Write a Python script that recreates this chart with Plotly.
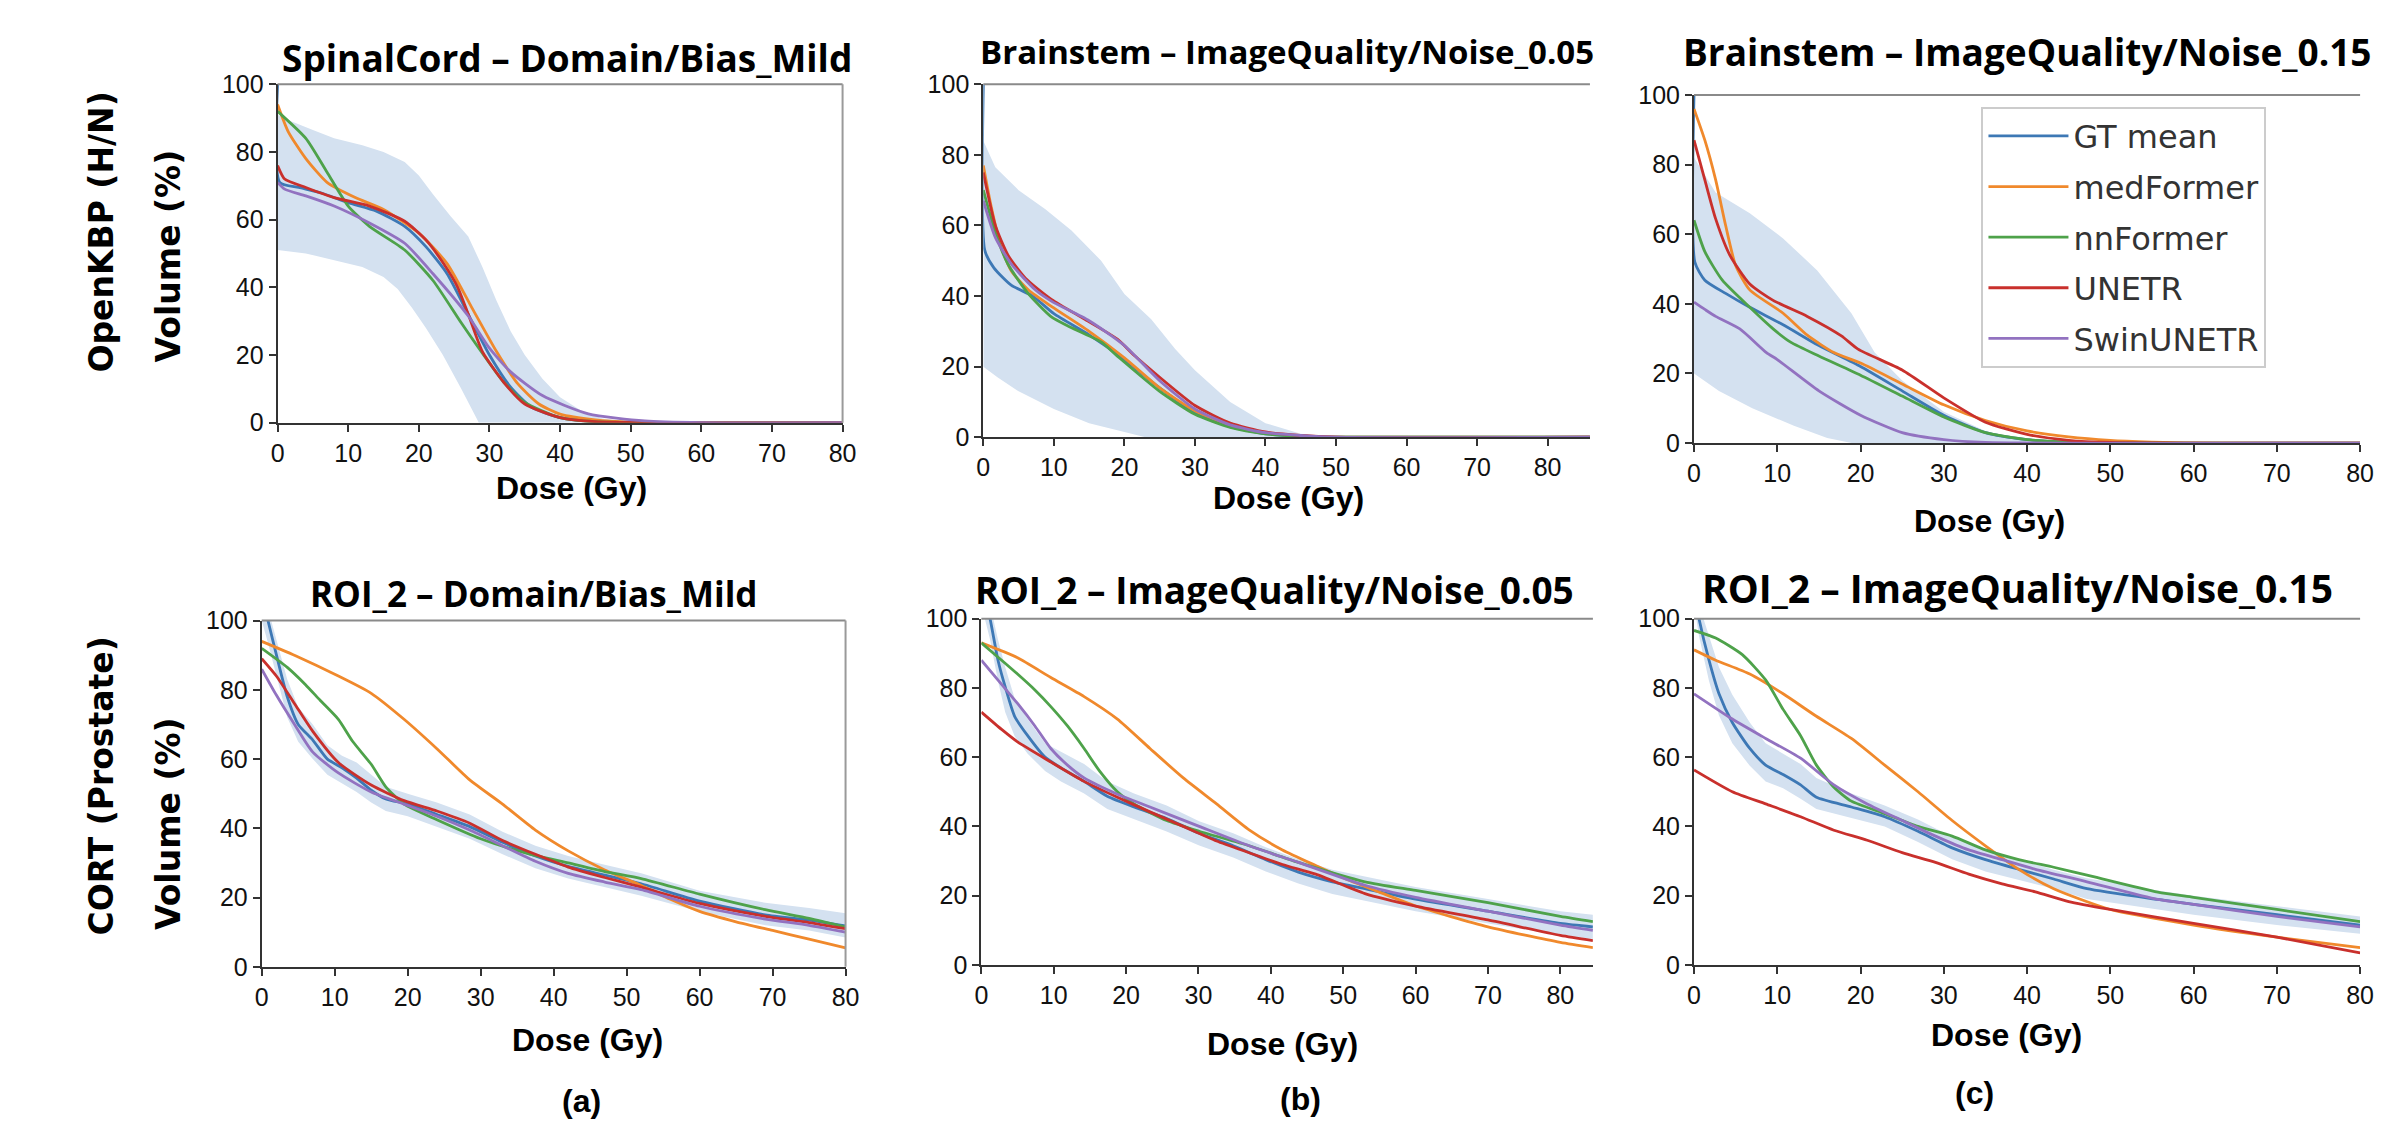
import plotly.graph_objects as go

W, H = 2385, 1132

# ---------------- data: dose (Gy) / volume (%) ----------------
MODELS = ["GT mean", "medFormer", "nnFormer", "UNETR", "SwinUNETR"]
COLORS = ["#3d78b5", "#f0892c", "#4ea24a", "#c9302c", "#9272c0"]
X_TICKS = [0, 10, 20, 30, 40, 50, 60, 70, 80]
Y_TICKS = [0, 20, 40, 60, 80, 100]

TITLES = ["SpinalCord – Domain/Bias_Mild", "Brainstem – ImageQuality/Noise_0.05",
          "Brainstem – ImageQuality/Noise_0.15", "ROI_2 – Domain/Bias_Mild",
          "ROI_2 – ImageQuality/Noise_0.05", "ROI_2 – ImageQuality/Noise_0.15"]
ROW_LABELS = ["OpenKBP (H/N)", "CORT (Prostate)"]
COL_LABELS = ["(a)", "(b)", "(c)"]

# --- (a) top: SpinalCord
a1_band_up_x = [0, 2, 5, 8, 12, 15, 18, 20, 22, 24.5, 27, 29, 31, 33, 35, 37.5, 40, 43, 46, 50, 80]
a1_band_up = [91, 89, 86.5, 84, 82, 80, 77, 73, 67.5, 61, 55, 46, 36, 27, 20, 13, 7.5, 3.5, 1.2, 0.2, 0]
a1_band_lo_x = [0, 4, 8, 12, 15, 17, 19, 21, 23.4, 26, 28.5, 80]
a1_band_lo = [51, 50, 48, 46, 43, 39.5, 34, 28, 20, 10, 0, 0]
a1_gt_x = [0, 0.3, 3, 6, 10, 14, 18, 21, 24, 27, 30, 33, 36, 40, 45, 50, 80]
a1_gt = [100, 71, 69.5, 68, 65, 62.5, 58, 52, 44, 32, 20, 10.5, 4.5, 1.5, 0.3, 0, 0]
a1_med_x = [0, 1.5, 4, 7, 11, 15, 20, 24, 27.5, 31, 34, 37, 40, 45, 50, 80]
a1_med = [94, 86, 78, 71, 66.5, 63, 56, 47, 34, 21, 11.5, 5.5, 2.5, 0.8, 0.2, 0]
a1_nn_x = [0, 4, 7, 10, 13, 18, 22, 26, 29, 32, 35, 40, 45, 80]
a1_nn = [92, 84, 74, 64, 58, 51, 42, 29.5, 20.5, 12, 6, 1.5, 0.3, 0]
a1_unetr_x = [0, 1, 4, 8, 13, 18, 21, 23.5, 25.5, 27, 29, 32, 35, 40, 45, 80]
a1_unetr = [76, 72, 69.5, 66.5, 64, 59.5, 54, 47, 40, 32, 21, 12, 5.5, 1.5, 0.3, 0]
a1_swin_x = [0, 1, 4, 8, 13, 18, 22, 27, 30, 33, 37.5, 44, 52, 60, 80]
a1_swin = [71, 69, 67, 64, 59, 53, 44, 31.5, 22, 15, 8, 2.6, 0.5, 0, 0]

# --- (b) top: Brainstem noise 0.05
b1_band_up_x = [0, 1.7, 5, 8.8, 12.5, 16.7, 20, 23.8, 27.2, 30, 35, 40, 45, 50, 86]
b1_band_up = [84, 76.5, 70, 64.6, 58.6, 50, 40.6, 33.4, 25, 19, 10, 4, 1, 0, 0]
b1_band_lo_x = [0, 2, 5, 10, 15, 20, 23, 86]
b1_band_lo = [20, 17, 13, 8, 4, 1.5, 0, 0]
b1_gt_x = [0, 0.2, 1.5, 4, 7, 10, 15, 20, 25, 30, 35, 40, 45, 50, 86]
b1_gt = [100, 53, 48, 43, 40, 35, 29, 22, 14, 7, 3, 1, 0.3, 0, 0]
b1_med_x = [0, 1.1, 2.5, 4, 6.4, 9.7, 15, 20, 25, 30, 35, 40, 45, 50, 86]
b1_med = [77, 65.5, 54, 47, 41.7, 37, 30, 22.5, 14, 7.5, 3.5, 1.2, 0.4, 0, 0]
b1_nn_x = [0, 1.7, 3.5, 6.4, 9.7, 12, 16.7, 19, 25, 30, 35, 40, 45, 50, 86]
b1_nn = [70, 58, 49, 40.6, 34, 31.5, 27, 23, 13, 6.5, 2.8, 1, 0.3, 0, 0]
b1_unetr_x = [0, 1.7, 3.5, 6, 9.7, 14.4, 19, 21.5, 25, 30, 35, 40, 45, 50, 86]
b1_unetr = [75, 60, 51.6, 45, 39, 33.4, 27.8, 23, 17, 9, 4, 1.5, 0.5, 0, 0]
b1_swin_x = [0, 1.7, 4, 7.4, 9.7, 15, 20, 25, 30, 35, 40, 45, 50, 86]
b1_swin = [67, 56.6, 49, 41.7, 38.5, 33, 26, 16, 8, 3.5, 1.3, 0.5, 0, 0]

# --- (c) top: Brainstem noise 0.15
c1_band_up_x = [0, 2.6, 6.7, 10.7, 14.8, 18.9, 21.7, 25, 30, 35, 40, 45, 80]
c1_band_up = [82, 72, 66, 58.8, 49.6, 37.3, 26, 18, 9, 3.5, 0.5, 0, 0]
c1_band_lo_x = [0, 3, 7, 12, 16, 19, 80]
c1_band_lo = [20, 15, 10, 5, 1.5, 0, 0]
c1_gt_x = [0, 0.1, 1.3, 3.8, 6.7, 10.7, 15, 20, 25, 30, 35, 40, 45, 50, 80]
c1_gt = [100, 52, 46.8, 43, 39, 34, 28, 22, 15, 8, 3, 1, 0.2, 0, 0]
c1_med_x = [0, 1.3, 2.6, 3.8, 5, 6.7, 10.7, 13.6, 16.8, 20, 25, 30, 35, 40, 45, 50, 55, 60, 80]
c1_med = [96, 87, 75.6, 62.5, 51, 44, 37.3, 31, 26, 23, 17, 11, 6.5, 3.5, 1.8, 0.8, 0.3, 0, 0]
c1_nn_x = [0, 1.3, 3.4, 6.7, 9.5, 11.6, 15, 20, 25, 30, 35, 40, 45, 80]
c1_nn = [64, 55, 46.8, 39, 32.8, 29, 25, 19.5, 13.5, 7.5, 3, 1, 0.3, 0]
c1_unetr_x = [0, 1.3, 2.6, 4.3, 6.7, 9.5, 13.6, 17.7, 19.7, 25, 30, 35, 40, 45, 50, 80]
c1_unetr = [87, 75.6, 64.4, 54, 45.7, 41, 36.4, 30.8, 27, 21, 13, 6, 2.5, 0.8, 0.2, 0]
c1_swin_x = [0, 1.3, 2.6, 5.5, 8.7, 10, 15, 20, 25, 30, 35, 80]
c1_swin = [40.5, 38.4, 36.4, 32.8, 26, 24, 15, 8, 3, 1, 0.2, 0]

# --- (a) bottom: ROI_2 bias mild
a2_gt_x = [0, 0.8, 2.2, 3.5, 5, 7, 9, 11, 13, 15, 17, 20, 24, 28.5, 33, 37.5, 42, 47, 52, 60, 69, 75, 80]
a2_gt = [108, 100.5, 88.5, 78, 70, 65.5, 60, 57.5, 54.5, 51, 48.5, 47, 44, 40.5, 36, 32, 29, 26.5, 24, 19, 15, 13.5, 11.8]
a2_band_up = [110, 104, 93, 83, 75, 70, 64, 61, 59, 55.5, 52, 50, 47.5, 44, 39, 35, 32, 29.5, 27, 22, 18.5, 17, 15.5]
a2_band_lo = [100, 94, 83, 72, 65, 60, 55.5, 53, 50.5, 47.5, 45, 43.5, 40.5, 37, 32.5, 28.5, 25.5, 23, 20.5, 16, 12, 10.5, 8.5]
a2_med_x = [0, 5, 10, 15, 19.5, 24, 28.5, 33, 37.5, 42, 47, 52, 56, 60, 65, 70, 75, 80]
a2_med = [94, 89.5, 84.5, 79, 71.5, 63, 54, 47, 39.5, 33.5, 28, 23.5, 19.5, 16, 13, 10.5, 8, 5.5]
a2_nn_x = [0, 3.5, 6, 8, 10.5, 12.5, 15, 17, 19.5, 24, 30, 36, 42, 47, 52, 60, 69, 75, 80]
a2_nn = [92, 86.5, 81.5, 77, 71.5, 65, 58.5, 52, 47, 42.5, 37, 33, 30, 27.5, 25.5, 21, 16.5, 14, 11.5]
a2_unetr_x = [0, 2, 4.5, 7, 10.5, 15, 19.5, 24, 28.5, 33, 37.5, 42, 47, 52, 60, 69, 75, 80]
a2_unetr = [89, 84, 76, 68, 59, 52.5, 48, 45, 41.5, 36.5, 32.5, 28.8, 25.8, 23, 18.3, 14.6, 12.8, 11]
a2_swin_x = [0, 2, 4.5, 7, 10.5, 15, 19.5, 24, 28.5, 33, 37.5, 42, 47, 52, 60, 69, 75, 80]
a2_swin = [86, 78.5, 70, 62, 56, 50.5, 47, 43.5, 39.5, 35, 30.5, 27, 24.5, 22.3, 17.5, 13.8, 12, 10]

# --- (b) bottom: ROI_2 noise 0.05
b2_gt_x = [0, 1.2, 2.3, 3.3, 4.6, 6.4, 8.8, 11, 14.2, 17.4, 21.1, 25.6, 30.1, 34.8, 39.3, 43.8, 48.5, 53, 60, 70, 80, 84.5]
b2_gt = [110, 100, 88, 80.3, 71.8, 66.2, 60, 56.9, 53, 48.7, 45.6, 42.3, 38, 34.4, 30.4, 26.8, 24, 22, 19, 15.5, 12, 11]
b2_band_up = [112, 104, 94, 86, 77, 71, 64, 61.5, 58, 53, 49.5, 46, 41.5, 38, 34, 30.5, 27.5, 25.5, 22.5, 19, 15.5, 14.5]
b2_band_lo = [104, 94, 82, 73, 66, 61, 56, 53, 49.5, 45, 42, 38.5, 34.5, 31, 27, 23.5, 20.5, 18.5, 15.5, 12, 8.5, 7.5]
b2_med_x = [0, 5, 9.6, 14.2, 18.8, 23.3, 27.9, 32.5, 37, 41.6, 46.2, 50.7, 55, 60, 70, 80, 84.5]
b2_med = [93, 88.7, 83, 77.5, 71, 62.5, 54, 46.5, 39, 33.2, 28.7, 24.5, 21, 17, 11, 6.5, 5]
b2_nn_x = [0, 2.8, 5, 7.4, 9.6, 11.9, 14.2, 16.4, 18.8, 21.1, 25.6, 30.1, 37, 43.8, 53, 60, 70, 80, 84.5]
b2_nn = [93, 88, 84, 79.4, 74.6, 69, 62.5, 55.8, 50, 46.5, 41.7, 38.6, 34.4, 29.6, 24, 21.5, 18, 14, 12.5]
b2_unetr_x = [0, 2.8, 5, 9.6, 14.2, 18.8, 23.3, 27.9, 32.5, 37, 41.6, 46.2, 53, 60, 70, 80, 84.5]
b2_unetr = [73, 68, 64.4, 58.6, 53, 48.4, 44.2, 40, 35.8, 32.4, 29, 26.2, 20.6, 17, 13, 8.5, 7]
b2_swin_x = [0, 2.8, 5, 7.4, 9.6, 11.9, 14.2, 18.8, 23.3, 30.1, 37, 43.8, 53, 60, 70, 80, 84.5]
b2_swin = [88, 81, 75.5, 69, 62.5, 57.7, 54, 49.3, 45.6, 40, 34.4, 29.6, 23, 19.5, 15.5, 11.5, 10]

# --- (c) bottom: ROI_2 noise 0.15
c2_gt_x = [0, 0.6, 1.8, 3, 4.6, 6.7, 8.6, 10.7, 12.8, 14.7, 18.9, 22.9, 26.9, 31, 35, 39, 43.2, 47.2, 55.7, 60, 70, 80]
c2_gt = [108, 100, 88, 78.3, 70, 62.5, 57.7, 55, 52, 48.4, 45.6, 42.8, 38.6, 33.8, 30.4, 27.6, 24.8, 22, 18.9, 17.5, 14.5, 11.5]
c2_band_up = [110, 104, 95, 86, 78, 70, 64, 61, 58, 54, 49.5, 46, 42, 37, 33.5, 30.5, 27.5, 25, 21.5, 20, 17, 14]
c2_band_lo = [104, 95, 82, 72, 64, 57.5, 53, 51, 48, 45, 42.5, 40, 35.5, 30.5, 27, 24.5, 22, 19, 16, 14.5, 11.5, 9]
c2_med_x = [0, 2.6, 6.7, 10.7, 14.7, 18.9, 22.9, 26.9, 31, 35, 39, 43.2, 50, 60, 70, 80]
c2_med = [91, 88, 84, 78.3, 71.8, 65.4, 57.7, 50, 41.7, 34.4, 27.6, 22, 16, 11.5, 8, 5]
c2_nn_x = [0, 2.6, 5.8, 8.6, 10.7, 12.8, 14.7, 16.8, 18.9, 22.9, 26.9, 31, 35, 39, 43.2, 47.2, 55.7, 60, 70, 80]
c2_nn = [96.6, 94.4, 89.6, 82.3, 73.8, 66.2, 57.7, 51.3, 47.3, 43.7, 40, 37.2, 33.2, 30.4, 28.2, 25.9, 21, 19.5, 16, 12.5]
c2_unetr_x = [0, 4.6, 8.6, 12.8, 16.8, 20.8, 25, 29, 33, 37, 41, 45, 50, 60, 70, 80]
c2_unetr = [56.3, 50, 46.5, 42.8, 38.9, 36, 32.4, 29.6, 26.2, 23.4, 21.1, 18.3, 16, 12, 8, 3.5]
c2_swin_x = [0, 4.6, 8.6, 12.8, 16.8, 20.8, 25, 29, 33, 37, 41, 47.2, 55.7, 60, 70, 80]
c2_swin = [78.3, 71, 65.4, 59.7, 52, 46.5, 41.7, 37.2, 33.2, 30.4, 27.6, 24, 18.9, 17.5, 14, 11]

# ---------------- layout geometry (pixels) ----------------
# (left, right, bottom(y=0), top(y=100), xmax)
PANEL_BOX = [(273, 843, 419, 72, 80), (985, 1597, 434, 72, 86), (1702, 2374, 440, 83, 80),
             (257, 846, 977, 622, 80), (983, 1600, 975, 620, 84.5), (1702, 2374, 975, 620, 80)]
RIGHT_SPINE = [True, False, False, True, False, False]

panels = [
    dict(band=(a1_band_up_x, a1_band_up, a1_band_lo_x, a1_band_lo),
         lines=[(a1_gt_x, a1_gt), (a1_med_x, a1_med), (a1_nn_x, a1_nn), (a1_unetr_x, a1_unetr), (a1_swin_x, a1_swin)]),
    dict(band=(b1_band_up_x, b1_band_up, b1_band_lo_x, b1_band_lo),
         lines=[(b1_gt_x, b1_gt), (b1_med_x, b1_med), (b1_nn_x, b1_nn), (b1_unetr_x, b1_unetr), (b1_swin_x, b1_swin)]),
    dict(band=(c1_band_up_x, c1_band_up, c1_band_lo_x, c1_band_lo),
         lines=[(c1_gt_x, c1_gt), (c1_med_x, c1_med), (c1_nn_x, c1_nn), (c1_unetr_x, c1_unetr), (c1_swin_x, c1_swin)]),
    dict(band=(a2_gt_x, a2_band_up, a2_gt_x, a2_band_lo),
         lines=[(a2_gt_x, a2_gt), (a2_med_x, a2_med), (a2_nn_x, a2_nn), (a2_unetr_x, a2_unetr), (a2_swin_x, a2_swin)]),
    dict(band=(b2_gt_x, b2_band_up, b2_gt_x, b2_band_lo),
         lines=[(b2_gt_x, b2_gt), (b2_med_x, b2_med), (b2_nn_x, b2_nn), (b2_unetr_x, b2_unetr), (b2_swin_x, b2_swin)]),
    dict(band=(c2_gt_x, c2_band_up, c2_gt_x, c2_band_lo),
         lines=[(c2_gt_x, c2_gt), (c2_med_x, c2_med), (c2_nn_x, c2_nn), (c2_unetr_x, c2_unetr), (c2_swin_x, c2_swin)]),
]

TICK_FONT = dict(family="Liberation Sans Narrow, Arial Narrow, Liberation Sans, Arial", size=25, color="#111")
TITLE_FAMILY = "Open Sans, Liberation Sans"
TITLE_SIZES = [37, 33, 37, 35, 37, 39]
LABEL_FONT = dict(family="Liberation Sans, Arial", size=32, color="#000")
SIDE_FONT = dict(family="DejaVu Sans, Open Sans", size=33, color="#000")

fig = go.Figure()
layout = dict(width=W, height=H, margin=dict(l=0, r=0, t=0, b=0), autosize=False,
              paper_bgcolor="white", plot_bgcolor="white", showlegend=True)
shapes, annotations = [], []


def px_x(x):
    return x / W


def px_y(y):
    return 1 - y / H


for i, (p, box) in enumerate(zip(panels, PANEL_BOX)):
    n = i + 1
    xa = "x" if n == 1 else f"x{n}"
    ya = "y" if n == 1 else f"y{n}"
    left, right, bot, top, xmax = box
    ux, uy, lx, ly = p["band"]
    fig.add_trace(go.Scatter(x=list(ux) + list(lx)[::-1], y=list(uy) + list(ly)[::-1],
                             fill="toself", fillcolor="rgb(212,225,240)", line=dict(width=0),
                             mode="lines", hoverinfo="skip", showlegend=False, xaxis=xa, yaxis=ya))
    for k, (lxs, lys) in enumerate(p["lines"]):
        fig.add_trace(go.Scatter(x=lxs, y=lys, mode="lines", name=MODELS[k],
                                 line=dict(color=COLORS[k], width=2.8, shape="spline", smoothing=0.6),
                                 legendgroup=MODELS[k], showlegend=(n == 3),
                                 xaxis=xa, yaxis=ya))
    axis_common = dict(showline=True, linecolor="#333", linewidth=2, ticks="outside", ticklen=7,
                       tickwidth=2, tickcolor="#333", showgrid=False, zeroline=False,
                       tickfont=TICK_FONT, fixedrange=True)
    layout["xaxis" if n == 1 else f"xaxis{n}"] = dict(
        domain=[px_x(left), px_x(right)], range=[0, xmax], anchor=ya,
        tickvals=X_TICKS, **axis_common)
    layout["yaxis" if n == 1 else f"yaxis{n}"] = dict(
        domain=[px_y(bot), px_y(top)], range=[0, 100], anchor=xa,
        tickvals=Y_TICKS, **axis_common)
    shapes.append(dict(type="line", xref=f"{xa} domain", yref=f"{ya} domain", x0=0, x1=1, y0=1, y1=1,
                       line=dict(color="#8a8a8a", width=2)))
    if RIGHT_SPINE[i]:
        shapes.append(dict(type="line", xref=f"{xa} domain", yref=f"{ya} domain", x0=1, x1=1, y0=0, y1=1,
                           line=dict(color="#9a9a9a", width=2)))

# titles
TITLE_POS = [(565, 45), (1291, 38), (2038, 38), (532, 594), (1279, 590), (2028, 588)]
for t, (x, y), s in zip(TITLES, TITLE_POS, TITLE_SIZES):
    annotations.append(dict(text=f"<b>{t}</b>", x=px_x(x), y=px_y(y), xref="paper", yref="paper",
                            showarrow=False, xanchor="center", yanchor="middle",
                            font=dict(family=TITLE_FAMILY, size=s, color="#000")))
# x-axis labels
DOSE_POS = [(570, 486), (1293, 496), (2000, 520), (586, 1052), (1287, 1056), (2017, 1047)]
for x, y in DOSE_POS:
    annotations.append(dict(text="<b>Dose (Gy)</b>", x=px_x(x), y=px_y(y), xref="paper", yref="paper",
                            showarrow=False, xanchor="center", yanchor="middle", font=LABEL_FONT))
# y-axis labels and row labels
for (x, y) in [(163, 248), (163, 830)]:
    annotations.append(dict(text="<b>Volume (%)</b>", x=px_x(x), y=px_y(y), xref="paper", yref="paper",
                            showarrow=False, textangle=-90, xanchor="center", yanchor="middle", font=SIDE_FONT))
for lab, (x, y) in zip(ROW_LABELS, [(95, 224), (95, 792)]):
    annotations.append(dict(text=f"<b>{lab}</b>", x=px_x(x), y=px_y(y), xref="paper", yref="paper",
                            showarrow=False, textangle=-90, xanchor="center", yanchor="middle", font=SIDE_FONT))
for lab, (x, y) in zip(COL_LABELS, [(580, 1115), (1305, 1113), (1985, 1106)]):
    annotations.append(dict(text=f"<b>{lab}</b>", x=px_x(x), y=px_y(y), xref="paper", yref="paper",
                            showarrow=False, xanchor="center", yanchor="middle", font=LABEL_FONT))

layout["shapes"] = shapes
layout["annotations"] = annotations
layout["legend"] = dict(x=px_x(1992), y=px_y(95), xanchor="left", yanchor="top",
                        bgcolor="white", bordercolor="#cccccc", borderwidth=2,
                        font=dict(family="DejaVu Sans", size=32, color="#333"),
                        tracegroupgap=6, itemwidth=80)
fig.update_layout(**layout)

fig.write_html("out.html", config={"displayModeBar": False},
               post_script="document.body.style.margin='0';document.body.style.overflow='hidden';")
